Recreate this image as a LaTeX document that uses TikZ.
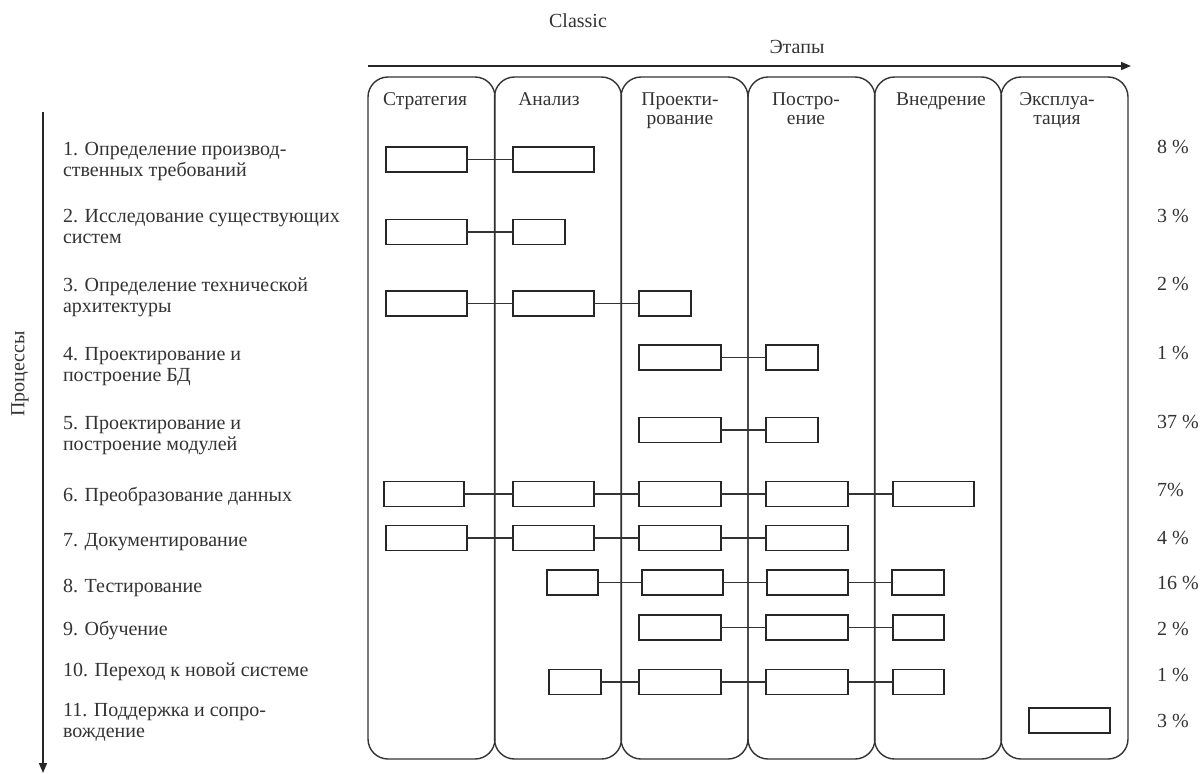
\documentclass[tikz,border=0pt]{standalone}
\usepackage{fontspec}
\setmainfont{Liberation Serif}
\usetikzlibrary{arrows.meta}
\begin{document}
\begin{tikzpicture}[x=1pt,y=-1pt,
  every node/.style={inner sep=0pt, outer sep=0pt},
  txt/.style={font=\fontsize{20}{21}\selectfont, text=black!80},
  head/.style={txt, align=center, font=\fontsize{19.5}{19}\selectfont},
  proc/.style={txt, anchor=west, align=left},
  pct/.style={txt, anchor=west},
  col/.style={draw=black!80, line width=1.4pt, rounded corners=20pt,
              minimum height=682pt, minimum width=127pt},
  gbar/.style={draw=black!85, line width=1.8pt, minimum height=25pt},
  link/.style={draw=black!80, line width=1.7pt},
  axis/.style={draw=black!85, line width=1.4pt, -{Triangle[length=10pt,width=8pt]}}
]
\newcommand\gbar[4]{\node[gbar, minimum width={(#3)-(#2)}] (#1) at ({((#2)+(#3))/2},#4) {};}
\useasboundingbox (0,0) rectangle (1203,774);

% titles and axes
\node[txt] (classic) at (578,21) {Classic};
\node[txt] (etapy) at (797,47) {Этапы};
\coordinate (ax0) at (368,66);
\coordinate (ax1) at (1131,66);
\draw[axis] (ax0) -- (ax1);
\coordinate (ay0) at (43,112);
\coordinate (ay1) at (43,773);
\draw[axis] (ay0) -- (ay1);
\node[txt, rotate=90] (proc) at (20,374) {Процессы};

% stage columns
\node[col] (c1) at (431.5,418) {};
\node[col] (c2) at (558,418) {};
\node[col] (c3) at (684.5,418) {};
\node[col] (c4) at (811.5,418) {};
\node[col] (c5) at (938,418) {};
\node[col] (c6) at (1064.5,418) {};

% stage headers
\node[head, anchor=north] (h1) at (425,93) {Стратегия};
\node[head, anchor=north] (h2) at (549,93) {Анализ};
\node[head, anchor=north] (h3) at (680,93) {Проекти-\\рование};
\node[head, anchor=north] (h4) at (806,93) {Постро-\\ение};
\node[head, anchor=north] (h5) at (941,93) {Внедрение};
\node[head, anchor=north] (h6) at (1057,93) {Эксплуа-\\тация};

% process names
\node[proc] (p1)  at (63,162) {1. Определение производ-\\ственных требований};
\node[proc] (p2)  at (63,226) {2. Исследование существующих\\систем};
\node[proc] (p3)  at (63,297) {3. Определение технической\\архитектуры};
\node[proc] (p4)  at (63,367) {4. Проектирование и\\построение БД};
\node[proc] (p5)  at (63,436) {5. Проектирование и\\построение модулей};
\node[proc] (p6)  at (63,496) {6. Преобразование данных};
\node[proc] (p7)  at (63,542) {7. Документирование};
\node[proc] (p8)  at (63,588) {8. Тестирование};
\node[proc] (p9)  at (63,630) {9. Обучение};
\node[proc] (p10) at (63,672) {10. Переход к новой системе};
\node[proc] (p11) at (63,722) {11. Поддержка и сопро-\\вождение};

% shares
\node[pct] (s1)  at (1157,147) {8 \%};
\node[pct] (s2)  at (1157,216) {3 \%};
\node[pct] (s3)  at (1157,284) {2 \%};
\node[pct] (s4)  at (1157,353) {1 \%};
\node[pct] (s5)  at (1157,422) {37 \%};
\node[pct] (s6)  at (1157,490) {7\%};
\node[pct] (s7)  at (1157,538) {4 \%};
\node[pct] (s8)  at (1157,583) {16 \%};
\node[pct] (s9)  at (1157,629) {2 \%};
\node[pct] (s10) at (1157,675) {1 \%};
\node[pct] (s11) at (1157,721) {3 \%};

% activity bars
\gbar{r1a}{386}{467}{159.5} \gbar{r1b}{513}{594}{159.5}
\gbar{r2a}{386}{467}{232}   \gbar{r2b}{513}{565}{232}
\gbar{r3a}{386}{467}{303.5} \gbar{r3b}{513}{594}{303.5} \gbar{r3c}{639}{691}{303.5}
\gbar{r4c}{639}{721}{357.5} \gbar{r4d}{766}{818}{357.5}
\gbar{r5c}{639}{721}{430}   \gbar{r5d}{766}{818}{430}
\gbar{r6a}{384}{464}{494}   \gbar{r6b}{513}{594}{494} \gbar{r6c}{639}{721}{494}
\gbar{r6d}{766}{848}{494}   \gbar{r6e}{893}{974}{494}
\gbar{r7a}{386}{467}{538}   \gbar{r7b}{513}{594}{538} \gbar{r7c}{639}{721}{538}
\gbar{r7d}{766}{848}{538}
\gbar{r8b}{547}{598}{582.5} \gbar{r8c}{642}{723}{582.5} \gbar{r8d}{767}{848}{582.5}
\gbar{r8e}{892}{944}{582.5}
\gbar{r9c}{639}{721}{627.5} \gbar{r9d}{766}{848}{627.5} \gbar{r9e}{893}{944}{627.5}
\gbar{r10b}{549}{601}{682}  \gbar{r10c}{639}{721}{682} \gbar{r10d}{766}{848}{682}
\gbar{r10e}{893}{944}{682}
\gbar{r11f}{1029}{1110}{720.5}

% links between consecutive bars
\foreach \a/\b in {r1a/r1b, r2a/r2b, r3a/r3b, r3b/r3c, r4c/r4d, r5c/r5d,
                   r6a/r6b, r6b/r6c, r6c/r6d, r6d/r6e,
                   r7a/r7b, r7b/r7c, r7c/r7d,
                   r8b/r8c, r8c/r8d, r8d/r8e,
                   r9c/r9d, r9d/r9e,
                   r10b/r10c, r10c/r10d, r10d/r10e}
  \draw[link] (\a.east) -- (\b.west);
\end{tikzpicture}
\end{document}
